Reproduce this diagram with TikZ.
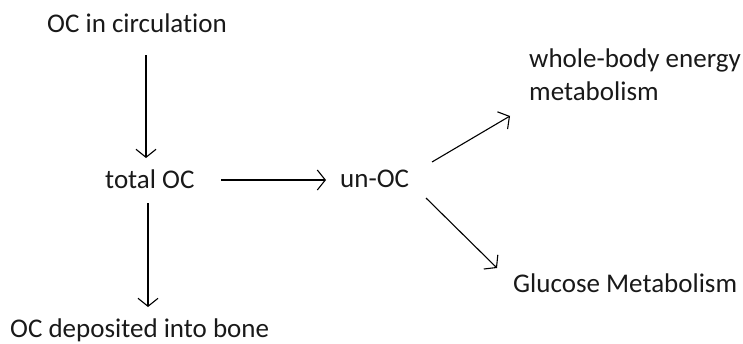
\documentclass[tikz,border=0pt]{standalone}
\usepackage{fontspec}
\setmainfont{Carlito}[Ligatures={NoCommon}]
\usetikzlibrary{arrows.meta}
\begin{document}
\begin{tikzpicture}[x=1pt,y=1pt,
  lbl/.style={anchor=base west,inner sep=0pt,font=\fontsize{27}{33}\selectfont,text=black!90},
  arr/.style={line width=1.1pt,-{Straight Barb[length=8pt,width=20pt,line width=1.1pt]}}]
\useasboundingbox (0,0) rectangle (743,-343);
\node[lbl] (circ) at (47,-32) {OC in circulation};
\node[lbl] (total) at (105,-188) {total OC};
\node[lbl] (unoc) at (340,-187) {un-OC};
\node[lbl] (bone) at (10,-337) {OC deposited into bone};
\node[lbl,align=left] (whole) at (529,-100) {whole-body energy\\metabolism};
\node[lbl] (gluc) at (513,-292) {Glucose Metabolism};
\coordinate (a1s) at (146,-55);  \coordinate (a1e) at (146,-158);
\coordinate (a2s) at (221,-180); \coordinate (a2e) at (326,-180);
\coordinate (a3s) at (148,-203); \coordinate (a3e) at (148,-307);
\coordinate (a4s) at (432,-162); \coordinate (a4e) at (510,-116);
\coordinate (a5s) at (426,-198); \coordinate (a5e) at (497,-268);
\draw[arr] (a1s) -- (a1e);
\draw[arr] (a2s) -- (a2e);
\draw[arr] (a3s) -- (a3e);
\draw[arr] (a4s) -- (a4e);
\draw[arr] (a5s) -- (a5e);
\end{tikzpicture}
\end{document}
